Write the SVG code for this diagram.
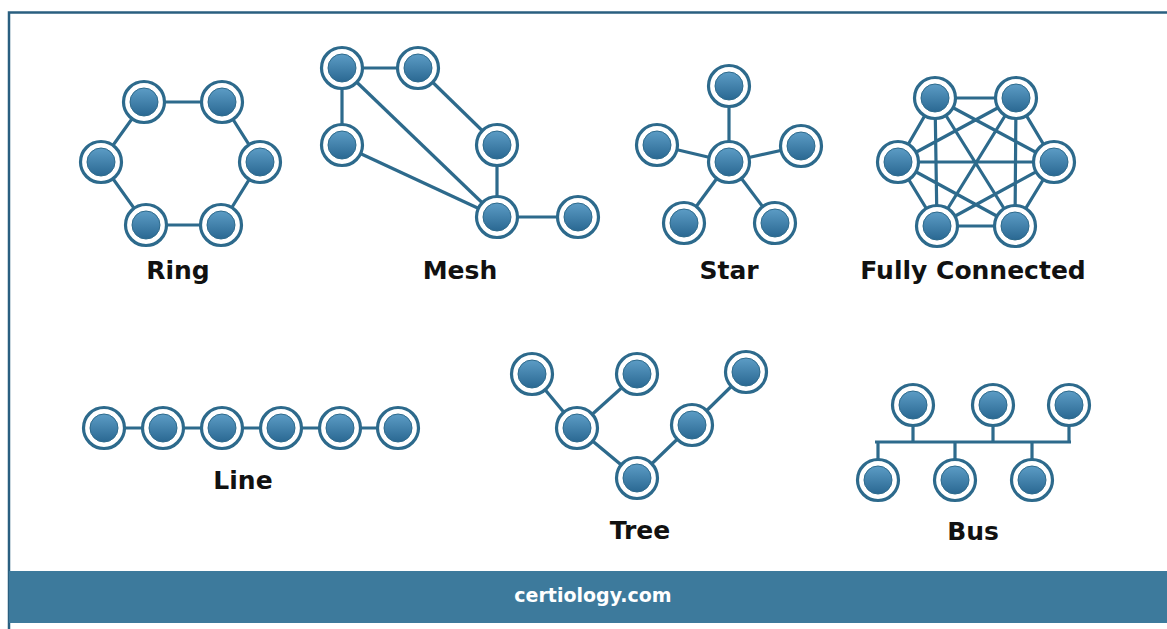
<svg xmlns="http://www.w3.org/2000/svg" width="1167" height="629" viewBox="0 0 1167 629">
<defs>
<linearGradient id="g" x1="0" y1="0" x2="0" y2="1">
<stop offset="0" stop-color="#5c9cc5"/>
<stop offset="1" stop-color="#2a6892"/>
</linearGradient>
<g id="n">
<circle r="20.5" fill="#fff" stroke="#2d6a8c" stroke-width="3.2"/>
<circle r="14" fill="url(#g)" stroke="#2d6a8c" stroke-width="1"/>
</g>
</defs>
<style>
.e{stroke:#2d6a8c;stroke-width:3.2;fill:none}
.lbl{font-family:"DejaVu Sans",sans-serif;font-weight:bold;font-size:25px;fill:#111;text-anchor:middle}
.ft{font-family:"DejaVu Sans",sans-serif;font-weight:bold;font-size:19px;fill:#fff;text-anchor:middle}
</style>
<rect width="1167" height="629" fill="#fff"/>
<path d="M9 629 V12.5 H1167" fill="none" stroke="#2a5f80" stroke-width="2.5"/>
<rect x="9" y="571" width="1158" height="52" fill="#3d7a9c"/>
<text class="ft" x="593" y="602">certiology.com</text>
<g id="connectors" class="e">
<polygon points="144,102 222,102 260,162 221,225 146,225 101,162"/>
<line x1="342" y1="68" x2="418" y2="68"/>
<line x1="342" y1="68" x2="342" y2="145"/>
<line x1="342" y1="68" x2="497" y2="217"/>
<line x1="418" y1="68" x2="497" y2="145"/>
<line x1="342" y1="145" x2="497" y2="217"/>
<line x1="497" y1="145" x2="497" y2="217"/>
<line x1="497" y1="217" x2="578" y2="217"/>
<line x1="729" y1="162" x2="729" y2="86"/>
<line x1="729" y1="162" x2="657" y2="145"/>
<line x1="729" y1="162" x2="801" y2="146"/>
<line x1="729" y1="162" x2="684" y2="223"/>
<line x1="729" y1="162" x2="775" y2="223"/>
<path d="M935 98 L1016 98 M935 98 L898 162 M935 98 L1054 162 M935 98 L937 226 M935 98 L1015 226 M1016 98 L898 162 M1016 98 L1054 162 M1016 98 L937 226 M1016 98 L1015 226 M898 162 L1054 162 M898 162 L937 226 M898 162 L1015 226 M1054 162 L937 226 M1054 162 L1015 226 M937 226 L1015 226"/>
<line x1="104" y1="428" x2="398" y2="428"/>
<polyline points="532,374 577,428 637,478 692,425 746,372"/>
<line x1="637" y1="374" x2="577" y2="428"/>
<path d="M875 442 H1071 M913 405 V442 M993 405 V442 M1069 405 V442 M878 442 V480 M955 442 V480 M1032 442 V480"/>
</g>
<g id="ring">
<use href="#n" x="144" y="102"/><use href="#n" x="222" y="102"/><use href="#n" x="101" y="162"/><use href="#n" x="260" y="162"/><use href="#n" x="146" y="225"/><use href="#n" x="221" y="225"/>
<text class="lbl" x="178" y="279">Ring</text>
</g>
<g id="mesh">
<use href="#n" x="342" y="68"/><use href="#n" x="418" y="68"/><use href="#n" x="342" y="145"/><use href="#n" x="497" y="145"/><use href="#n" x="497" y="217"/><use href="#n" x="578" y="217"/>
<text class="lbl" x="460" y="279">Mesh</text>
</g>
<g id="star">
<use href="#n" x="729" y="86"/><use href="#n" x="657" y="145"/><use href="#n" x="801" y="146"/><use href="#n" x="729" y="162"/><use href="#n" x="684" y="223"/><use href="#n" x="775" y="223"/>
<text class="lbl" x="729" y="279">Star</text>
</g>
<g id="fully">
<use href="#n" x="935" y="98"/><use href="#n" x="1016" y="98"/><use href="#n" x="898" y="162"/><use href="#n" x="1054" y="162"/><use href="#n" x="937" y="226"/><use href="#n" x="1015" y="226"/>
<text class="lbl" x="973" y="279">Fully Connected</text>
</g>
<g id="line">
<use href="#n" x="104" y="428"/><use href="#n" x="163" y="428"/><use href="#n" x="222" y="428"/><use href="#n" x="281" y="428"/><use href="#n" x="340" y="428"/><use href="#n" x="398" y="428"/>
<text class="lbl" x="243" y="489">Line</text>
</g>
<g id="tree">
<use href="#n" x="532" y="374"/><use href="#n" x="637" y="374"/><use href="#n" x="746" y="372"/><use href="#n" x="577" y="428"/><use href="#n" x="692" y="425"/><use href="#n" x="637" y="478"/>
<text class="lbl" x="640" y="539">Tree</text>
</g>
<g id="bus">
<use href="#n" x="913" y="405"/><use href="#n" x="993" y="405"/><use href="#n" x="1069" y="405"/><use href="#n" x="878" y="480"/><use href="#n" x="955" y="480"/><use href="#n" x="1032" y="480"/>
<text class="lbl" x="973" y="540">Bus</text>
</g>
</svg>
